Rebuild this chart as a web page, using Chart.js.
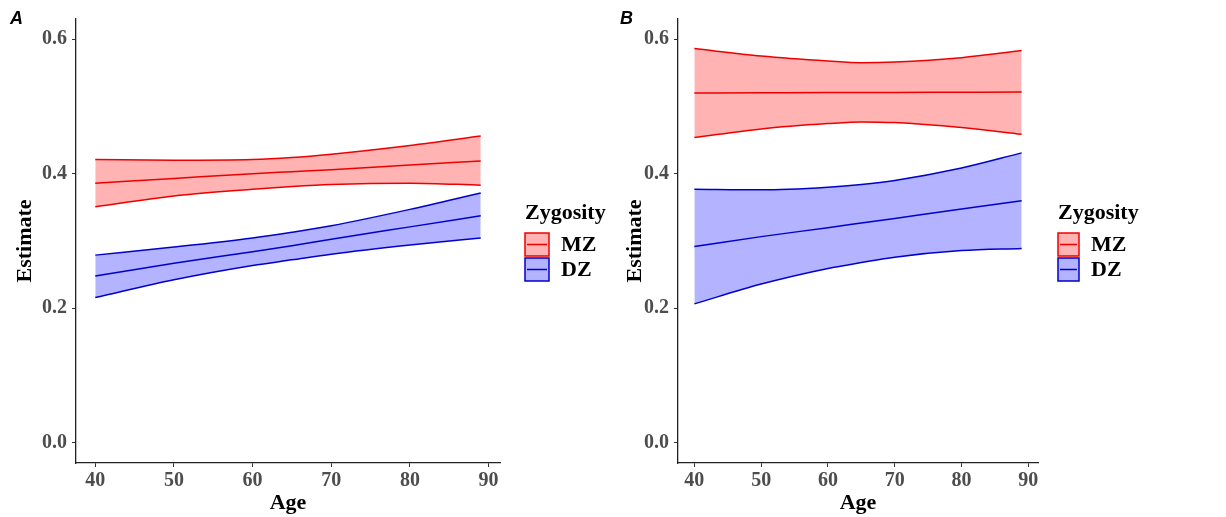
<!DOCTYPE html>
<html>
<head>
<meta charset="utf-8">
<script src="https://cdn.jsdelivr.net/npm/chart.js@4.4.1/dist/chart.umd.min.js"></script>
<style>
  body { margin: 0; background: #fff; }
  .panel { position: absolute; top: 0; }
</style>
</head>
<body>
<div class="panel" style="left:0"><canvas id="chartA" width="610" height="517"></canvas></div>
<div class="panel" style="left:610px"><canvas id="chartB" width="616" height="517"></canvas></div>
<script>
"use strict";

// data
const ages = [40, 50, 60, 65, 70, 80, 89];
const xTicks = [40, 50, 60, 70, 80, 90];
const yTicks = [0.0, 0.2, 0.4, 0.6];
const groups = ["MZ", "DZ"];

// panel A
const mzUpperA = [0.421, 0.420, 0.421, 0.424, 0.429, 0.442, 0.456];
const mzEstA   = [0.386, 0.393, 0.400, 0.403, 0.406, 0.413, 0.419];
const mzLowerA = [0.351, 0.367, 0.377, 0.381, 0.384, 0.386, 0.383];
const dzUpperA = [0.279, 0.291, 0.3045, 0.313, 0.3227, 0.347, 0.3715];
const dzEstA   = [0.248, 0.267, 0.284, 0.293, 0.3026, 0.321, 0.3375];
const dzLowerA = [0.216, 0.2424, 0.2636, 0.272, 0.2804, 0.294, 0.3045];

// panel B
const mzUpperB = [0.586, 0.575, 0.5676, 0.565, 0.566, 0.5725, 0.583];
const mzEstB   = [0.5200, 0.5203, 0.5206, 0.5207, 0.5209, 0.5212, 0.5215];
const mzLowerB = [0.4538, 0.4666, 0.4745, 0.477, 0.476, 0.4686, 0.4587];
const dzUpperB = [0.377, 0.376, 0.380, 0.384, 0.390, 0.4085, 0.431];
const dzEstB   = [0.2917, 0.3065, 0.3198, 0.3267, 0.3336, 0.3474, 0.3597];
const dzLowerB = [0.2065, 0.236, 0.2592, 0.268, 0.276, 0.2858, 0.289];

const RED = "#ee0000";
const BLUE = "#0000cc";
const RED_FILL = "#ffb3b3";
const BLUE_FILL = "#b3b3ff";
const serif = "'Liberation Serif', 'Times New Roman', serif";

const pts = (ys) => ages.map((a, i) => ({ x: a, y: ys[i] }));

function lineSet(label, ys, color, fill, fillColor) {
  return {
    label: label,
    data: pts(ys),
    borderColor: color,
    borderWidth: 1.5,
    backgroundColor: fillColor || "transparent",
    fill: fill,
    pointRadius: 0,
    cubicInterpolationMode: "monotone"
  };
}

// legend + panel letter, drawn ggplot style
const ggLegend = {
  id: "ggLegend",
  afterDraw(chart, args, opts) {
    const ctx = chart.ctx;
    ctx.save();
    ctx.fillStyle = "#000";
    ctx.font = "italic bold 18px 'Liberation Sans', Arial, sans-serif";
    ctx.textBaseline = "alphabetic";
    ctx.fillText(opts.letter, 10, 24);

    ctx.font = "bold 22px " + serif;
    ctx.textBaseline = "middle";
    ctx.fillText("Zygosity", opts.x, 213);

    const cols = [[RED, RED_FILL], [BLUE, BLUE_FILL]];
    groups.forEach((g, i) => {
      const top = 233 + i * 25;
      ctx.fillStyle = cols[i][1];
      ctx.fillRect(opts.x, top, opts.w, 23);
      ctx.strokeStyle = cols[i][0];
      ctx.lineWidth = 1.5;
      ctx.strokeRect(opts.x, top, opts.w, 23);
      ctx.beginPath();
      ctx.moveTo(opts.x + 2, top + 11.5);
      ctx.lineTo(opts.x + opts.w - 2, top + 11.5);
      ctx.stroke();
      ctx.fillStyle = "#000";
      ctx.fillText(g, opts.x + opts.w + 12, top + 12);
    });
    ctx.restore();
  }
};

function makeChart(id, d, layout) {
  const datasets = [
    lineSet("MZ upper", d[0], RED, 2, RED_FILL),
    lineSet("MZ", d[1], RED, false),
    lineSet("MZ lower", d[2], RED, false),
    lineSet("DZ upper", d[3], BLUE, 5, BLUE_FILL),
    lineSet("DZ", d[4], BLUE, false),
    lineSet("DZ lower", d[5], BLUE, false)
  ];
  const tickFont = { family: serif, size: 20, weight: "bold" };
  const titleFont = { family: serif, size: 22, weight: "bold" };
  return new Chart(document.getElementById(id), {
    type: "line",
    data: { datasets: datasets },
    plugins: [ggLegend],
    options: {
      responsive: false,
      animation: false,
      layout: { padding: { top: 19, right: layout.right, left: 0, bottom: 0 } },
      plugins: {
        legend: { display: false },
        tooltip: { enabled: false },
        filler: { drawTime: "beforeDatasetsDraw" },
        ggLegend: { letter: layout.letter, x: layout.legendX, w: layout.keyW }
      },
      scales: {
        x: {
          type: "linear",
          min: 37.55,
          max: 91.45,
          afterBuildTicks: (s) => { s.ticks = xTicks.map((v) => ({ value: v })); },
          afterFit: (s) => { s.height = 54; },
          grid: { drawOnChartArea: false, drawTicks: true, tickLength: 4, color: "#333", lineWidth: 1 },
          border: { display: true, color: "#222", width: 1.3 },
          ticks: { color: "#4d4d4d", font: tickFont, padding: 2, maxRotation: 0 },
          title: { display: true, text: "Age", color: "#000", font: titleFont, padding: { top: 0, bottom: 0 } }
        },
        y: {
          min: -0.03,
          max: 0.63,
          afterBuildTicks: (s) => { s.ticks = yTicks.map((v) => ({ value: v })); },
          afterFit: (s) => { s.width = layout.left; },
          grid: { drawOnChartArea: false, drawTicks: true, tickLength: 4, color: "#333", lineWidth: 1 },
          border: { display: true, color: "#222", width: 1.3 },
          ticks: {
            color: "#4d4d4d",
            font: tickFont,
            padding: 5,
            callback: (v) => v.toFixed(1)
          },
          title: { display: true, text: "Estimate", color: "#000", font: titleFont, padding: { top: layout.titlePad, bottom: 0 } }
        }
      }
    }
  });
}

makeChart("chartA", [mzUpperA, mzEstA, mzLowerA, dzUpperA, dzEstA, dzLowerA],
  { letter: "A", left: 76, right: 110, legendX: 525, keyW: 24, titlePad: 12 });
makeChart("chartB", [mzUpperB, mzEstB, mzLowerB, dzUpperB, dzEstB, dzLowerB],
  { letter: "B", left: 68, right: 188, legendX: 448, keyW: 21, titlePad: 12 });
</script>
</body>
</html>
